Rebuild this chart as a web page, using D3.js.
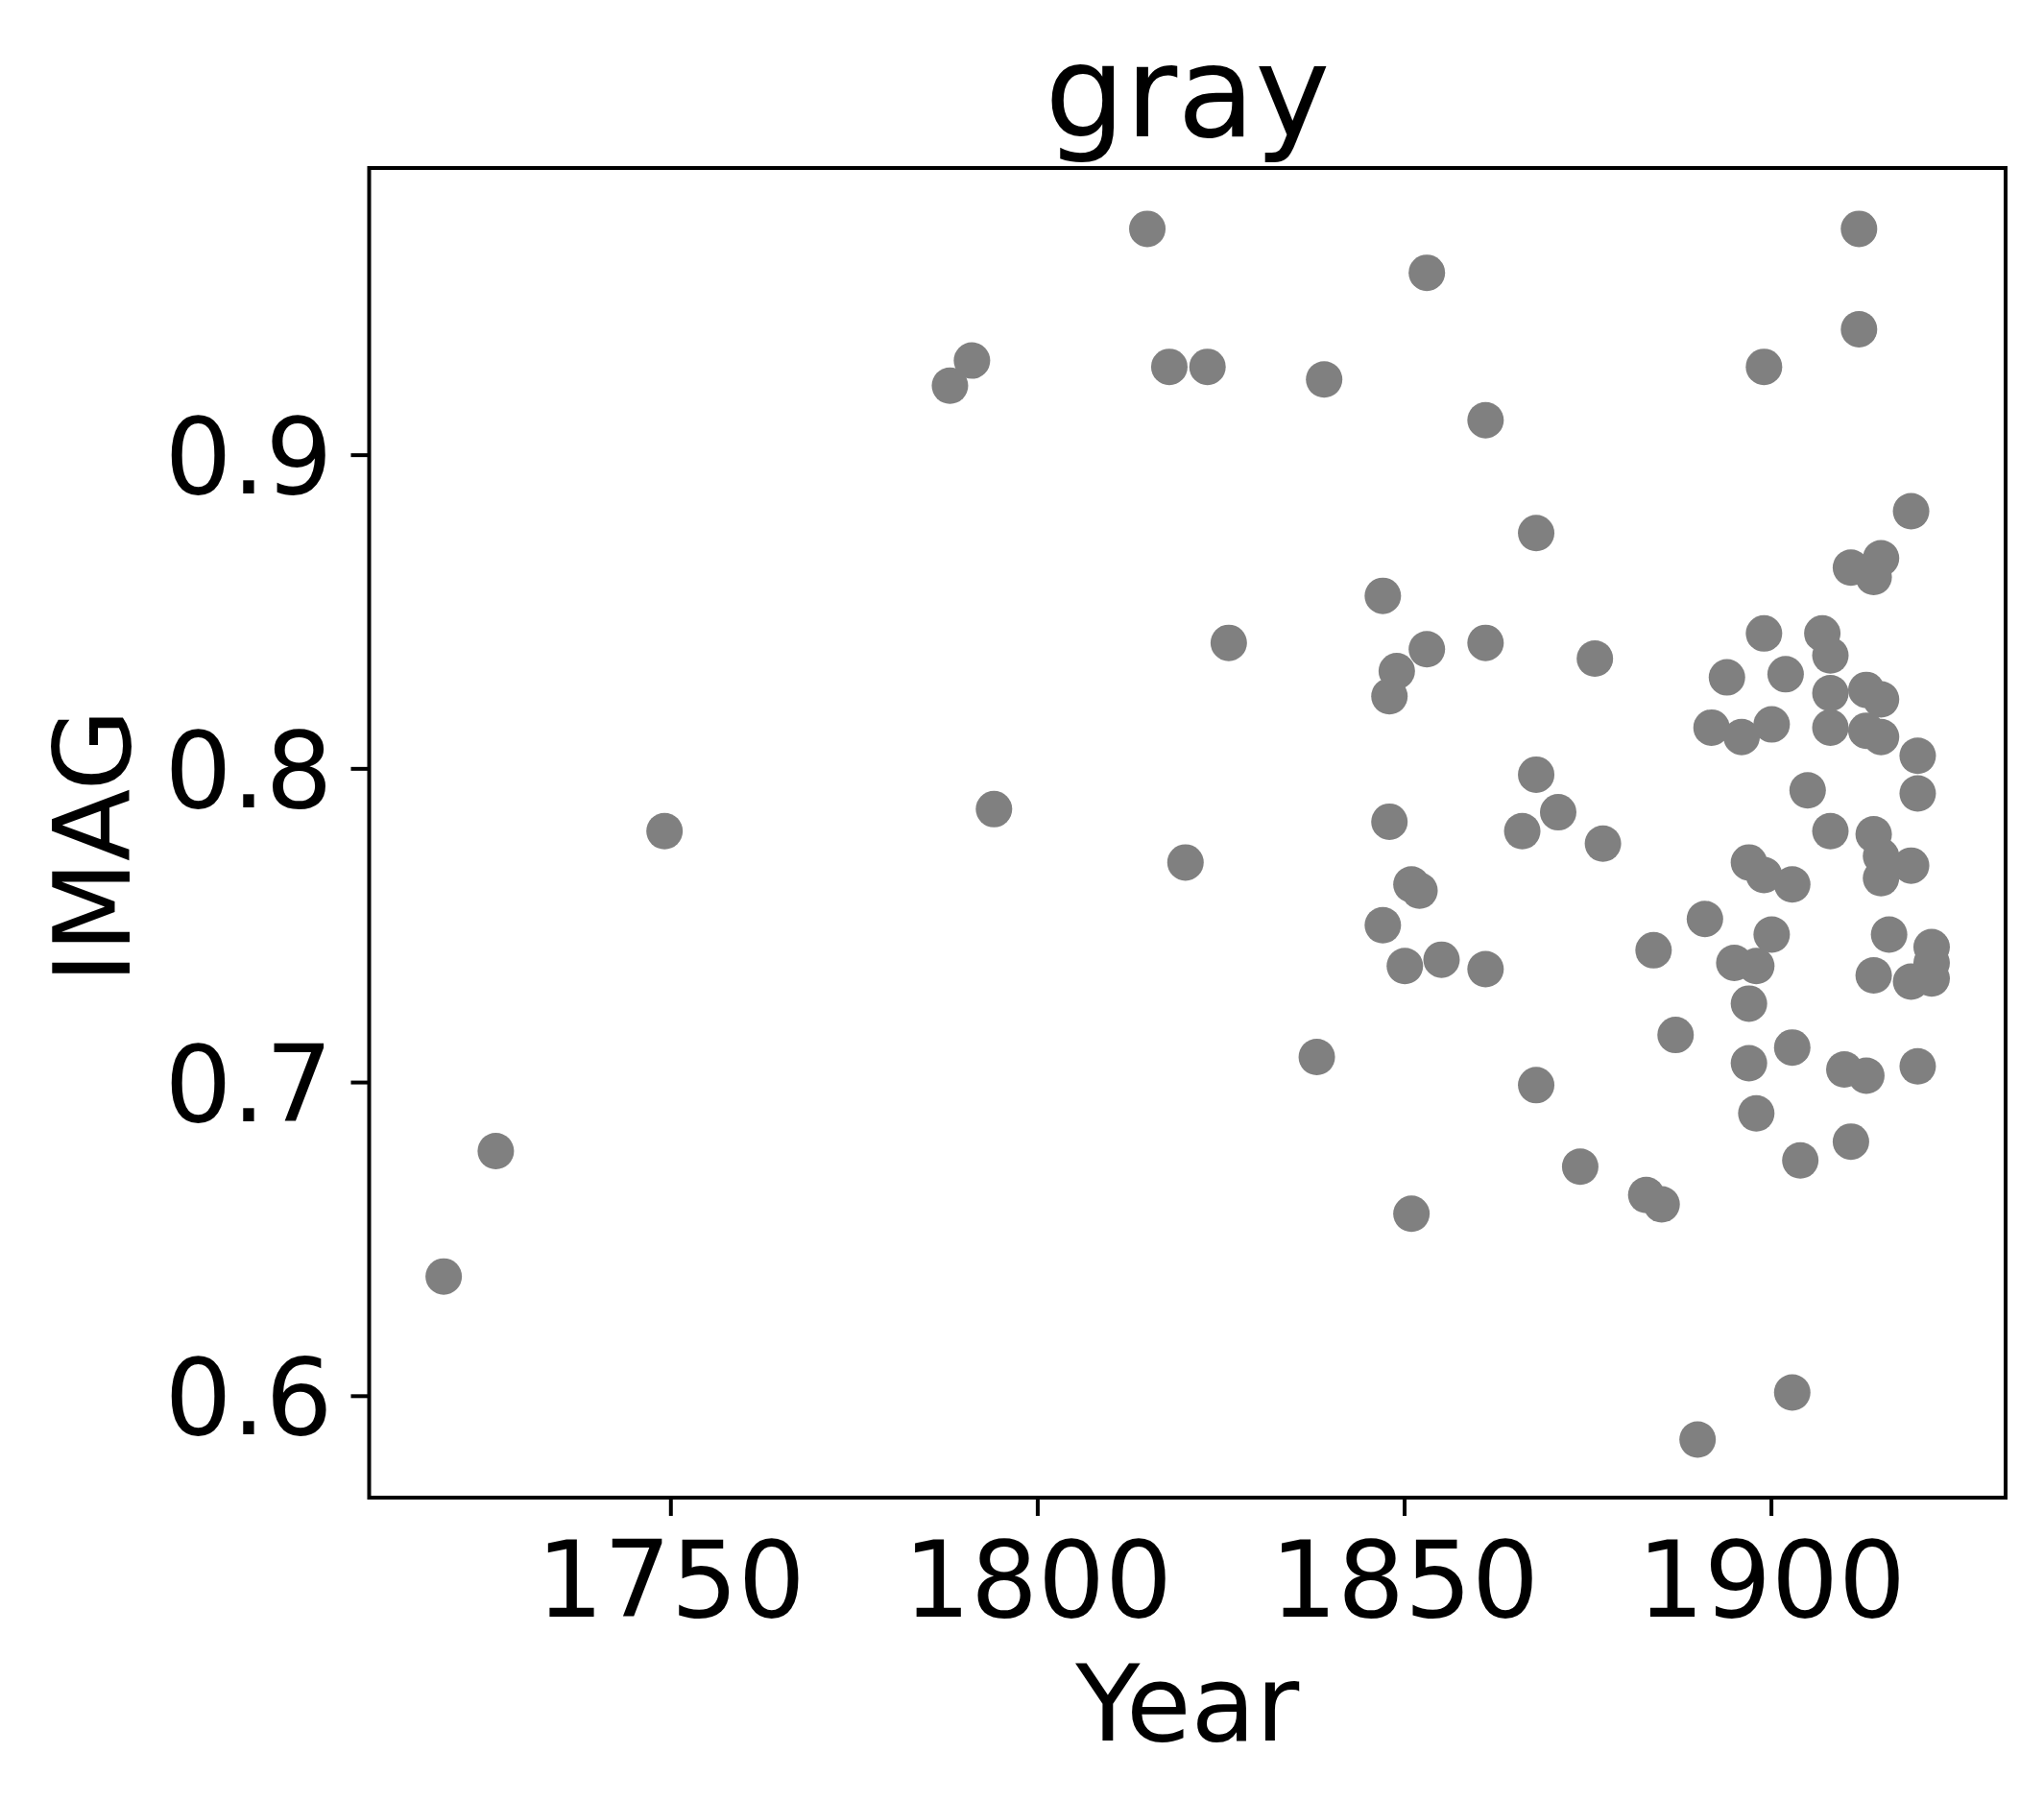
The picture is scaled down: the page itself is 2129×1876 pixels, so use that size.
<!DOCTYPE html>
<html>
<head>
<meta charset="utf-8">
<title>gray</title>
<script src="https://d3js.org/d3.v7.min.js"></script>
<style>
  body { margin: 0; background: white; }
  text { font-family: "DejaVu Sans", sans-serif; fill: black; }
  .axis path { display: none; }
  .axis line { stroke: black; stroke-width: 4; }
  .axis text { font-size: 110px; }
</style>
</head>
<body>
<script>
  // values
  var years = [
    1719.1, 1726.2, 1749.2, 1788.1, 1791.1, 1794.1, 1815.0, 1818.0, 1820.2, 1823.2,
    1826.1, 1838.1, 1839.1, 1847.1, 1847.1, 1848.0, 1848.0, 1849.0, 1850.1, 1851.0,
    1851.0, 1852.1, 1853.1, 1853.1, 1855.1, 1861.1, 1861.1, 1861.1, 1866.1, 1868.0,
    1868.0, 1868.0, 1871.0, 1874.0, 1876.0, 1877.1, 1883.0, 1884.0, 1885.1, 1887.0,
    1890.0, 1891.0, 1891.9, 1894.0, 1895.0, 1896.0, 1897.0, 1898.0, 1897.0, 1897.0,
    1898.0, 1899.05, 1899.05, 1899.05, 1900.1, 1900.1, 1902.0, 1902.9, 1902.9, 1902.9,
    1904.0, 1905.0, 1907.0, 1908.1, 1908.1, 1908.1, 1908.1, 1910.0, 1910.9, 1910.9,
    1912.0, 1912.0, 1913.0, 1913.0, 1913.0, 1914.0, 1914.0, 1914.0, 1915.0, 1915.0,
    1915.0, 1915.0, 1915.0, 1916.1, 1919.1, 1919.1, 1919.1, 1920.0, 1920.0, 1920.0,
    1921.9, 1921.9, 1921.9
  ];
  var imag = [
    0.638, 0.678, 0.780, 0.922, 0.930, 0.787, 0.972, 0.928, 0.770, 0.928,
    0.840, 0.708, 0.924, 0.855, 0.750, 0.823, 0.783, 0.831, 0.737, 0.763,
    0.658, 0.761, 0.958, 0.838, 0.739, 0.911, 0.840, 0.736, 0.780, 0.875,
    0.798, 0.699, 0.786, 0.673, 0.835, 0.776, 0.664, 0.742, 0.661, 0.715,
    0.586, 0.752, 0.813, 0.829, 0.738, 0.810, 0.770, 0.737, 0.725, 0.706,
    0.690, 0.928, 0.843, 0.766, 0.814, 0.747, 0.830, 0.763, 0.711, 0.601,
    0.675, 0.793, 0.843, 0.836, 0.824, 0.813, 0.780, 0.704, 0.681, 0.864,
    0.972, 0.940, 0.825, 0.812, 0.702, 0.779, 0.734, 0.861, 0.867, 0.822,
    0.810, 0.772, 0.765, 0.747, 0.882, 0.769, 0.732, 0.804, 0.792, 0.705,
    0.743, 0.738, 0.733
  ];
  var xTicks = [1750, 1800, 1850, 1900];
  var yTicks = [0.6, 0.7, 0.8, 0.9];

  var W = 2129, H = 1876;
  var plotLeft = 384.5, plotRight = 2089, plotTop = 175, plotBottom = 1560;

  var svg = d3.select("body").append("svg")
    .attr("width", W)
    .attr("height", H);

  var x = d3.scaleLinear().domain([1708.94, 1931.98]).range([plotLeft, plotRight]);
  var y = d3.scaleLinear().domain([0.5675, 0.9914]).range([plotBottom, plotTop]);

  var data = years.map(function(d, i) { return { year: d, imag: imag[i] }; });

  svg.append("g")
    .selectAll("circle")
    .data(data)
    .enter().append("circle")
    .attr("cx", function(d) { return x(d.year); })
    .attr("cy", function(d) { return y(d.imag); })
    .attr("r", 19)
    .attr("fill", "#808080");

  // frame
  svg.append("rect")
    .attr("x", plotLeft)
    .attr("y", plotTop)
    .attr("width", plotRight - plotLeft)
    .attr("height", plotBottom - plotTop)
    .attr("fill", "none")
    .attr("stroke", "black")
    .attr("stroke-width", 4);

  var xAxis = svg.append("g")
    .attr("class", "axis")
    .attr("transform", "translate(0," + plotBottom + ")")
    .call(d3.axisBottom(x).tickValues(xTicks).tickSize(19).tickFormat(d3.format("d")));
  xAxis.selectAll("text")
    .attr("y", 124)
    .attr("dy", null);

  var yAxis = svg.append("g")
    .attr("class", "axis")
    .attr("transform", "translate(" + plotLeft + ",0)")
    .call(d3.axisLeft(y).tickValues(yTicks).tickSize(19).tickFormat(d3.format(".1f")));
  yAxis.selectAll("text")
    .attr("x", -38)
    .attr("dy", "0.3645em");

  svg.append("text")
    .attr("x", (plotLeft + plotRight) / 2)
    .attr("y", 142)
    .attr("text-anchor", "middle")
    .style("font-size", "132px")
    .text("gray");

  svg.append("text")
    .attr("x", (plotLeft + plotRight) / 2)
    .attr("y", 1813)
    .attr("text-anchor", "middle")
    .style("font-size", "110px")
    .text("Year");

  svg.append("text")
    .attr("transform", "translate(135," + ((plotTop + plotBottom) / 2 + 14) + ") rotate(-90)")
    .attr("text-anchor", "middle")
    .style("font-size", "110px")
    .text("IMAG");
</script>
</body>
</html>
